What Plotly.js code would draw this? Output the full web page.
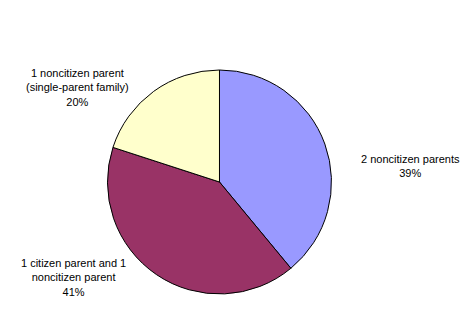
<!DOCTYPE html>
<html>
<head>
<meta charset="utf-8">
<script src="https://cdn.plot.ly/plotly-3.0.1.min.js"></script>
<style>html,body{margin:0;padding:0;background:#fff;}#chart{width:476px;height:313px;}</style>
</head>
<body>
<div id="chart"></div>
<script>
var categories = ["2 noncitizen parents", "1 citizen parent and 1 noncitizen parent", "1 noncitizen parent (single-parent family)"];
var labelLines = [["2 noncitizen parents"], ["1 citizen parent and 1", "noncitizen parent"], ["1 noncitizen parent", "(single-parent family)"]];
var values = [39, 41, 20];
var colors = ["#9999FF", "#993366", "#FFFFCC"];

var labelPos = [[0.8634, 0.4712], [0.1534, 0.115], [0.1618, 0.722]];

var annotations = categories.map(function(c, i) {
  return {
    text: labelLines[i].join("<br>") + "<br>" + values[i] + "%",
    x: labelPos[i][0], y: labelPos[i][1], xref: "paper", yref: "paper",
    xanchor: "center", yanchor: "middle", align: "center", showarrow: false,
    font: {family: "Liberation Sans, Arial, sans-serif", size: 11, color: "#000"}
  };
});

Plotly.newPlot("chart", [{
  type: "pie",
  labels: categories,
  values: values,
  sort: false,
  direction: "clockwise",
  rotation: 0,
  textinfo: "none",
  hoverinfo: "skip",
  marker: {colors: colors, line: {color: "#000", width: 1}},
  domain: {x: [0.2258, 0.6964], y: [0.0607, 0.7764]}
}], {
  width: 476, height: 313,
  margin: {l: 0, r: 0, t: 0, b: 0},
  showlegend: false,
  paper_bgcolor: "#fff",
  annotations: annotations
}, {staticPlot: true, displayModeBar: false});
</script>
</body>
</html>
